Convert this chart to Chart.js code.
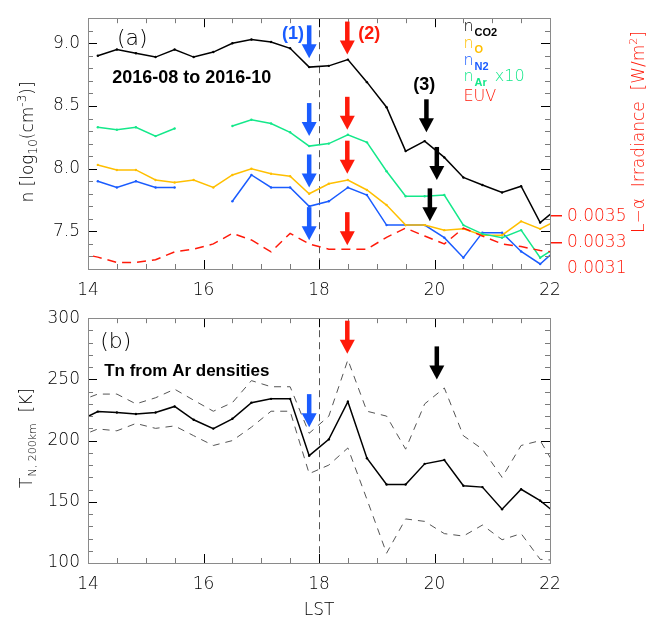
<!DOCTYPE html>
<html>
<head>
<meta charset="utf-8">
<script src="https://cdn.jsdelivr.net/npm/chart.js@4.4.1/dist/chart.umd.min.js"></script>
<style>
  body { margin: 0; background: #fff; }
  #wrap { position: relative; width: 647px; height: 617px; }
  canvas { position: absolute; left: 0; }
  #densChart { top: 0; }
  #tempChart { top: 300px; }
</style>
</head>
<body>
<div id="wrap">
  <canvas id="densChart" width="647" height="300"></canvas>
  <canvas id="tempChart" width="647" height="317"></canvas>
</div>
<script>
// local solar time bin centres (20 min bins)
const lst = [13.83, 14.17, 14.5, 14.83, 15.17, 15.5, 15.83, 16.17, 16.5, 16.83, 17.17, 17.5, 17.83,
             18.17, 18.5, 18.83, 19.17, 19.5, 19.83, 20.17, 20.5, 20.83, 21.17, 21.5, 21.83, 22.17];

// log10 number densities
const nCO2 = [null, 8.90, 8.95, 8.92, 8.89, 8.95, 8.89, 8.93, 9.00, 9.03, 9.01, 8.96, 8.81,
              8.82, 8.87, 8.69, 8.49, 8.14, 8.22, 8.09, 7.93, 7.87, 7.81, 7.86, 7.57, 7.70];
const nO   = [null, 8.03, 7.99, 7.99, 7.91, 7.89, 7.91, 7.85, 7.95, 8.00, 7.96, 7.94, 7.80,
              7.88, 7.91, 7.83, 7.71, 7.55, 7.55, 7.51, 7.52, 7.47, 7.47, 7.58, 7.52, 7.60];
const nN2  = [null, 7.90, 7.85, 7.90, 7.85, 7.85, null, null, 7.74, 7.95, 7.85, 7.85, 7.70,
              7.74, 7.85, 7.79, 7.55, 7.55, 7.55, 7.45, 7.29, 7.49, 7.49, 7.34, 7.24, 7.38];
const nAr  = [null, 8.33, 8.31, 8.33, 8.26, 8.32, null, null, 8.34, 8.39, 8.36, 8.29, 8.18,
              8.20, 8.27, 8.21, 7.98, 7.78, 7.78, 7.79, 7.55, 7.48, 7.45, 7.51, 7.29, 7.39];
// Lyman-alpha irradiance, W/m^2
const euv  = [0.00322, 0.00319, 0.00315, 0.00315, 0.00317, 0.00323, 0.00325, 0.00329, 0.00337,
              0.00332, 0.00323, 0.00337, 0.00329, 0.00325, 0.00325, 0.00325, 0.00334, 0.00341,
              0.00335, 0.00329, 0.00341, 0.00335, 0.00329, 0.00327, 0.00324, 0.00322];

// temperature at 200 km from Ar scale height, with its error band
const tn     = [216, 223.7, 223, 221.7, 223, 227.9, 217, 209.8, 217.8, 231, 234.1, 234.1, 187.7,
                201, 231.8, 185.6, 164.1, 164.1, 181, 184.1, 163.1, 162, 143.9, 160.2, 150.9, 138];
const tnHigh = [232, 238, 238, 230, 235, 242, 233, 224, 231, 249, 244, 244, 206,
                220, 266, 224, 220, 193, 230, 243, 204, 193, 170, 196, 200, 173];
const tnLow  = [203, 209.5, 208, 214, 210, 212, 204, 196, 200, 211, 224, 224, 173,
                180, 194, 152, 108, 136, 134, 124, 122, 131, 119, 124, 103, 102];

const hourTicks = [14, 16, 18, 20, 22];
const densTicks = [7.5, 8.0, 8.5, 9.0];
const euvTicks = [0.0031, 0.0033, 0.0035];
const tempTicks = [100, 150, 200, 250, 300];

const C_O = '#ffbf00', C_N2 = '#1a5cff', C_AR = '#14e88a', C_RED = '#ff1a0a';
const SANS = "'DejaVu Sans', sans-serif";
const BOLD_SANS = "'Liberation Sans', Arial, sans-serif";
const reg = s => '200 ' + s + 'px ' + SANS;
const bold = s => 'bold ' + s + 'px ' + BOLD_SANS;

Chart.defaults.font.family = SANS;
Chart.defaults.font.size = 17;
Chart.defaults.font.weight = '200';
Chart.defaults.color = '#000';
Chart.defaults.animation = false;

const pts = arr => lst.map((x, i) => ({ x: x, y: arr[i] }));

function lineSet(label, arr, color, extra) {
    return Object.assign({
        label: label, data: pts(arr), borderColor: color, backgroundColor: color,
        borderWidth: 1.5, pointRadius: 1.2, pointBorderWidth: 0, tension: 0
    }, extra || {});
}

const setTicks = list => scale => { scale.ticks = list.map(v => ({ value: v })); };
const fixWidth = w => scale => { scale.width = w; };
const fixHeight = h => scale => { scale.height = h; };

function stepValues(min, max, step) {
    const out = [];
    for (let v = min; v <= max + 1e-9; v += step) out.push(+v.toFixed(6));
    return out;
}

// draws text runs (sub/superscripts) left to right from a baseline point
function drawRuns(ctx, runs, x, y, color) {
    let cx = x;
    runs.forEach(r => {
        ctx.font = r.font;
        ctx.fillStyle = r.color || color;
        cx += r.dx || 0;
        ctx.fillText(r.t, cx, y + (r.dy || 0));
        cx += ctx.measureText(r.t).width;
    });
    return cx - x;
}
function runsWidth(ctx, runs) {
    let w = 0;
    runs.forEach(r => { ctx.font = r.font; w += (r.dx || 0) + ctx.measureText(r.t).width; });
    return w;
}

// grey frame with inward ticks on every side
function framePlugin(yMinor, yMajor) {
    return {
        id: 'frame',
        afterDatasetsDraw(chart) {
            const { ctx, chartArea: a } = chart;
            const xs = chart.scales.x, ys = chart.scales.y;
            ctx.save();
            ctx.lineWidth = 1;
            const xTick = (v, len) => {
                const px = Math.round(xs.getPixelForValue(v)) + 0.5;
                ctx.moveTo(px, a.bottom); ctx.lineTo(px, a.bottom - len);
                ctx.moveTo(px, a.top); ctx.lineTo(px, a.top + len);
            };
            const yTick = (v, len) => {
                const py = Math.round(ys.getPixelForValue(v)) + 0.5;
                ctx.moveTo(a.left, py); ctx.lineTo(a.left + len, py);
                ctx.moveTo(a.right, py); ctx.lineTo(a.right - len, py);
            };
            ctx.strokeStyle = '#7a7a7a';
            ctx.beginPath();
            stepValues(xs.min, xs.max, 0.5).forEach(v => xTick(v, 5));
            stepValues(ys.min, ys.max, yMinor).forEach(v => yTick(v, 5));
            ctx.stroke();
            ctx.strokeStyle = '#000';
            ctx.beginPath();
            hourTicks.forEach(v => xTick(v, 9));
            yMajor.forEach(v => yTick(v, 9));
            ctx.stroke();
            ctx.strokeStyle = '#8a8a8a';
            ctx.strokeRect(Math.round(a.left) + 0.5, Math.round(a.top) + 0.5,
                           Math.round(a.right - a.left), Math.round(a.bottom - a.top));
            ctx.restore();
        }
    };
}

// dashed line at 18 LST
const duskLine = {
    id: 'duskLine',
    beforeDatasetsDraw(chart) {
        const { ctx, chartArea: a } = chart;
        const px = Math.round(chart.scales.x.getPixelForValue(18)) + 0.5;
        ctx.save();
        ctx.strokeStyle = '#555';
        ctx.lineWidth = 1;
        ctx.setLineDash([7, 5]);
        ctx.beginPath();
        ctx.moveTo(px, a.top);
        ctx.lineTo(px, a.bottom);
        ctx.stroke();
        ctx.restore();
    }
};

function arrowPlugin(arrows) {
    return {
        id: 'arrows',
        afterDatasetsDraw(chart) {
            const ctx = chart.ctx;
            ctx.save();
            arrows.forEach(ar => {
                const px = chart.scales.x.getPixelForValue(ar.x);
                const tip = chart.scales.y.getPixelForValue(ar.tip);
                const len = 33, headL = 14, headW = 15, shaft = 4.5;
                ctx.fillStyle = ar.color;
                ctx.fillRect(px - shaft / 2, tip - len, shaft, len - headL + 1);
                ctx.beginPath();
                ctx.moveTo(px - headW / 2, tip - headL);
                ctx.lineTo(px + headW / 2, tip - headL);
                ctx.lineTo(px, tip);
                ctx.closePath();
                ctx.fill();
            });
            ctx.restore();
        }
    };
}

function notesPlugin(notes) {
    return {
        id: 'notes',
        afterDatasetsDraw(chart) {
            const ctx = chart.ctx;
            ctx.save();
            ctx.textAlign = 'left';
            ctx.textBaseline = 'alphabetic';
            notes.forEach(n => {
                drawRuns(ctx, n.runs, chart.scales.x.getPixelForValue(n.x),
                         chart.scales.y.getPixelForValue(n.y), n.color);
            });
            ctx.restore();
        }
    };
}

// axis titles placed in canvas pixels, centred on (x, y)
function titlesPlugin(titles) {
    return {
        id: 'titles',
        afterDraw(chart) {
            const ctx = chart.ctx;
            titles.forEach(t => {
                ctx.save();
                ctx.textAlign = 'left';
                ctx.textBaseline = 'alphabetic';
                ctx.translate(t.x, t.y);
                if (t.rot) ctx.rotate(t.rot);
                const w = runsWidth(ctx, t.runs);
                drawRuns(ctx, t.runs, -w / 2, 0, t.color);
                ctx.restore();
            });
        }
    };
}

const xScale = h => ({
    type: 'linear', min: 14, max: 22,
    afterBuildTicks: setTicks(hourTicks), afterFit: fixHeight(h),
    grid: { display: false, drawTicks: false }, border: { display: false },
    ticks: { padding: 11, autoSkip: false, maxRotation: 0, callback: v => String(v) }
});

// (a) densities
new Chart(document.getElementById('densChart'), {
    type: 'line',
    data: {
        datasets: [
            lineSet('EUV', euv, C_RED, { yAxisID: 'y2', borderDash: [9, 6], pointRadius: 0 }),
            lineSet('nAr x10', nAr, C_AR),
            lineSet('nO', nO, C_O),
            lineSet('nN2', nN2, C_N2),
            lineSet('nCO2', nCO2, '#000')
        ]
    },
    options: {
        responsive: false,
        layout: { padding: { top: 13, left: 0, right: 0, bottom: 0 } },
        plugins: { legend: { display: false }, tooltip: { enabled: false } },
        scales: {
            x: xScale(31),
            y: {
                min: 7.2, max: 9.2,
                afterBuildTicks: setTicks(densTicks), afterFit: fixWidth(88),
                grid: { display: false, drawTicks: false }, border: { display: false },
                ticks: { padding: 8, callback: v => v.toFixed(1) }
            },
            y2: {
                position: 'right', min: 0.0031, max: 0.0050,
                afterBuildTicks: setTicks(euvTicks), afterFit: fixWidth(97),
                grid: {
                    display: true, drawOnChartArea: false, drawTicks: true, tickLength: 12, lineWidth: 1.5,
                    color: c => (c.tick && c.tick.value > 0.00315) ? C_RED : 'rgba(0,0,0,0)'
                },
                border: { display: false },
                ticks: { padding: 5, color: C_RED, callback: v => v.toFixed(4) }
            }
        }
    },
    plugins: [
        duskLine,
        framePlugin(0.1, densTicks),
        arrowPlugin([
            { x: 17.83, tip: 8.88, color: C_N2 },
            { x: 17.83, tip: 8.26, color: C_N2 },
            { x: 17.83, tip: 7.85, color: C_N2 },
            { x: 17.83, tip: 7.43, color: C_N2 },
            { x: 18.49, tip: 8.91, color: C_RED },
            { x: 18.49, tip: 8.31, color: C_RED },
            { x: 18.49, tip: 7.96, color: C_RED },
            { x: 18.49, tip: 7.39, color: C_RED },
            { x: 19.86, tip: 8.29, color: '#000' },
            { x: 20.04, tip: 7.91, color: '#000' },
            { x: 19.92, tip: 7.58, color: '#000' }
        ]),
        notesPlugin([
            { x: 14.50, y: 8.99, color: '#000', runs: [{ t: '(a)', font: reg(22) }] },
            { x: 14.42, y: 8.68, color: '#000', runs: [{ t: '2016-08 to 2016-10', font: bold(18) }] },
            { x: 17.36, y: 9.035, color: C_N2, runs: [{ t: '(1)', font: bold(18) }] },
            { x: 18.68, y: 9.035, color: C_RED, runs: [{ t: '(2)', font: bold(18) }] },
            { x: 19.63, y: 8.625, color: '#000', runs: [{ t: '(3)', font: bold(18) }] },
            { x: 20.5, y: 9.10, color: '#000', runs: [{ t: 'n', font: reg(16) }, { t: 'CO2', font: bold(11), dy: 5, dx: 1 }] },
            { x: 20.5, y: 8.96, color: C_O, runs: [{ t: 'n', font: reg(16) }, { t: 'O', font: bold(11), dy: 5, dx: 1 }] },
            { x: 20.5, y: 8.83, color: C_N2, runs: [{ t: 'n', font: reg(16) }, { t: 'N2', font: bold(11), dy: 5, dx: 1 }] },
            { x: 20.5, y: 8.70, color: C_AR, runs: [{ t: 'n', font: reg(16) }, { t: 'Ar', font: bold(11), dy: 5, dx: 1 },
                                                    { t: 'x10', font: reg(16), dx: 8 }] },
            { x: 20.5, y: 8.54, color: C_RED, runs: [{ t: 'EUV', font: reg(16) }] }
        ]),
        titlesPlugin([
            { x: 33, y: 142, rot: -Math.PI / 2, color: '#000', runs: [
                { t: 'n [log', font: reg(17) }, { t: '10', font: reg(12), dy: 4 },
                { t: '(cm', font: reg(17) }, { t: '-3', font: reg(12), dy: -7 }, { t: ')]', font: reg(17) }] },
            { x: 644, y: 132, rot: -Math.PI / 2, color: C_RED, runs: [
                { t: 'L\u2212\u03b1  Irradiance  [W/m', font: reg(17) }, { t: '2', font: reg(11), dy: -7 },
                { t: ']', font: reg(17) }] }
        ])
    ]
});

// (b) neutral temperature
new Chart(document.getElementById('tempChart'), {
    type: 'line',
    data: {
        datasets: [
            lineSet('Tn upper', tnHigh, '#555', { borderWidth: 1, borderDash: [7, 6], pointRadius: 0 }),
            lineSet('Tn lower', tnLow, '#555', { borderWidth: 1, borderDash: [7, 6], pointRadius: 0 }),
            lineSet('Tn', tn, '#000')
        ]
    },
    options: {
        responsive: false,
        layout: { padding: { top: 6, left: 0, right: 97, bottom: 0 } },
        plugins: { legend: { display: false }, tooltip: { enabled: false } },
        scales: {
            x: xScale(54),
            y: {
                min: 100, max: 300,
                afterBuildTicks: setTicks(tempTicks), afterFit: fixWidth(88),
                grid: { display: false, drawTicks: false }, border: { display: false },
                ticks: { padding: 8, callback: v => String(v) }
            }
        }
    },
    plugins: [
        duskLine,
        framePlugin(10, tempTicks),
        arrowPlugin([
            { x: 17.83, tip: 211, color: C_N2 },
            { x: 18.49, tip: 271, color: C_RED },
            { x: 20.04, tip: 250, color: '#000' }
        ]),
        notesPlugin([
            { x: 14.21, y: 276, color: '#000', runs: [{ t: '(b)', font: reg(22) }] },
            { x: 14.28, y: 253, color: '#000', runs: [{ t: 'Tn from Ar densities', font: bold(17) }] }
        ]),
        titlesPlugin([
            { x: 32, y: 138, rot: -Math.PI / 2, color: '#000', runs: [
                { t: 'T', font: reg(17) }, { t: 'N, 200km', font: reg(11), dy: 4, dx: 1 },
                { t: '  [K]', font: reg(17) }] },
            { x: 319, y: 315, color: '#000', runs: [{ t: 'LST', font: reg(17) }] }
        ])
    ]
});
</script>
</body>
</html>
